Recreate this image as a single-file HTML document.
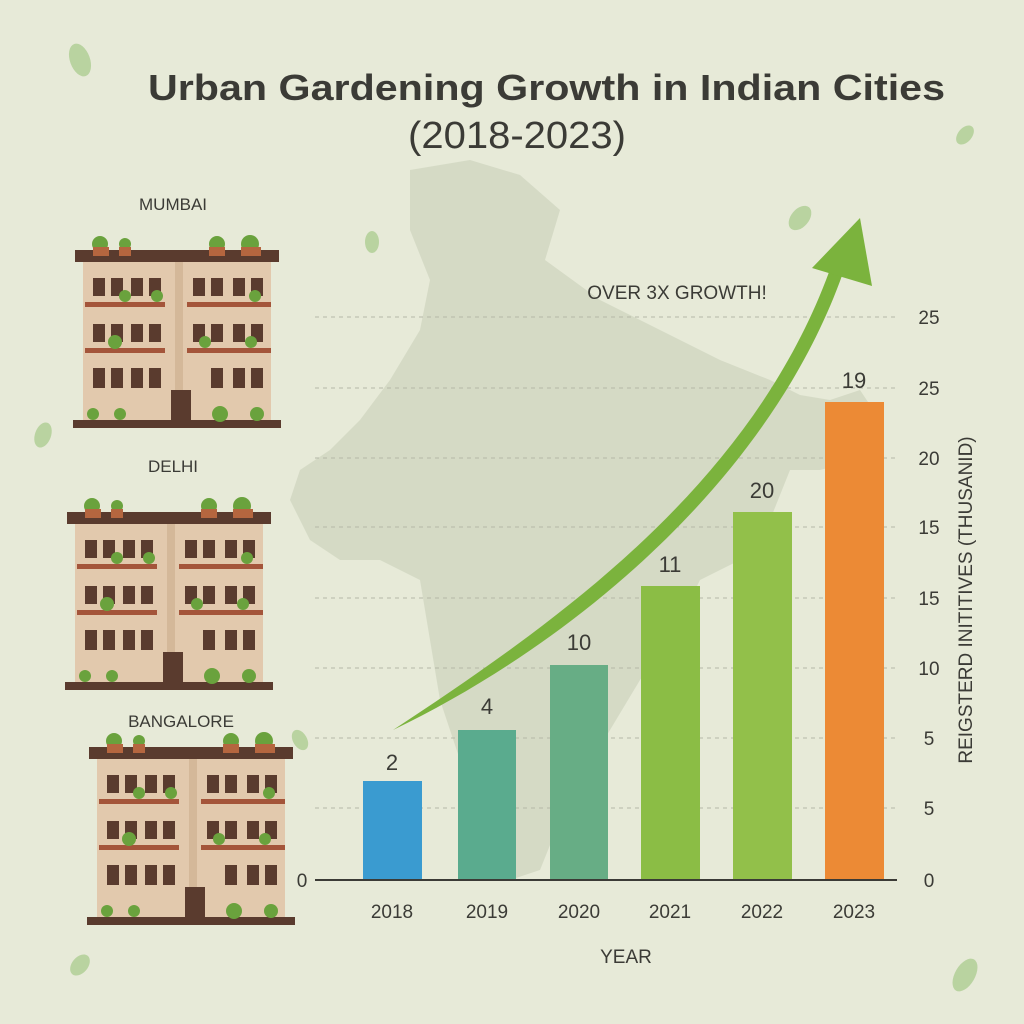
<!DOCTYPE html>
<html><head><meta charset="utf-8"><style>
html,body{margin:0;padding:0;background:#e7ead8;}
svg{display:block}
text{font-family:"Liberation Sans",sans-serif}
</style></head><body>
<svg width="1024" height="1024" viewBox="0 0 1024 1024" xmlns="http://www.w3.org/2000/svg">
<defs>
<g id="bld">
  <rect x="0" y="0" width="204" height="12" fill="#5a3b2e"/>
  <rect x="8" y="12" width="188" height="160" fill="#e2c9ad"/>
  <rect x="100" y="12" width="8" height="160" fill="#d4b899"/>
  <g fill="#5a3b2e">
    <rect x="18" y="28" width="12" height="18"/><rect x="36" y="28" width="12" height="18"/><rect x="56" y="28" width="12" height="18"/><rect x="74" y="28" width="12" height="18"/>
    <rect x="118" y="28" width="12" height="18"/><rect x="136" y="28" width="12" height="18"/><rect x="158" y="28" width="12" height="18"/><rect x="176" y="28" width="12" height="18"/>
    <rect x="18" y="74" width="12" height="18"/><rect x="36" y="74" width="12" height="18"/><rect x="56" y="74" width="12" height="18"/><rect x="74" y="74" width="12" height="18"/>
    <rect x="118" y="74" width="12" height="18"/><rect x="136" y="74" width="12" height="18"/><rect x="158" y="74" width="12" height="18"/><rect x="176" y="74" width="12" height="18"/>
    <rect x="18" y="118" width="12" height="20"/><rect x="36" y="118" width="12" height="20"/><rect x="56" y="118" width="12" height="20"/><rect x="74" y="118" width="12" height="20"/>
    <rect x="136" y="118" width="12" height="20"/><rect x="158" y="118" width="12" height="20"/><rect x="176" y="118" width="12" height="20"/>
    <rect x="96" y="140" width="20" height="32"/>
    <rect x="-2" y="170" width="208" height="8"/>
  </g>
  <g fill="#a4553a"><rect x="10" y="52" width="80" height="5"/><rect x="112" y="52" width="84" height="5"/><rect x="10" y="98" width="80" height="5"/><rect x="112" y="98" width="84" height="5"/></g>
  <g fill="#6aa23d">
    <circle cx="25" cy="-6" r="8"/><circle cx="50" cy="-6" r="6"/><circle cx="142" cy="-6" r="8"/><circle cx="175" cy="-6" r="9"/>
    <circle cx="50" cy="46" r="6"/><circle cx="82" cy="46" r="6"/><circle cx="180" cy="46" r="6"/>
    <circle cx="40" cy="92" r="7"/><circle cx="130" cy="92" r="6"/><circle cx="176" cy="92" r="6"/>
    <circle cx="18" cy="164" r="6"/><circle cx="45" cy="164" r="6"/><circle cx="145" cy="164" r="8"/><circle cx="182" cy="164" r="7"/>
  </g>
  <g fill="#b5663f"><rect x="18" y="-3" width="16" height="9"/><rect x="44" y="-3" width="12" height="9"/><rect x="134" y="-3" width="16" height="9"/><rect x="166" y="-3" width="20" height="9"/></g>
</g>
</defs>
<rect width="1024" height="1024" fill="#e7ead8"/>
<path d="M410 170 L470 160 L520 175 L560 210 L545 260 L600 300 L660 330 L720 360 L770 380 L800 395 L830 400 L860 390 L880 420 L860 460 L820 470 L790 470 L770 520 L740 560 L700 580 L680 620 L640 680 L610 730 L580 780 L560 820 L540 870 L510 880 L490 830 L460 760 L440 700 L430 640 L420 580 L380 560 L340 560 L310 540 L290 500 L300 470 L330 450 L360 420 L390 380 L420 330 L430 280 L410 230 Z" fill="#d3d8c3" opacity="0.9"/>
<text x="148" y="100" font-size="36" font-weight="bold" fill="#3b3b36" textLength="797" lengthAdjust="spacingAndGlyphs">Urban Gardening Growth in Indian Cities</text>
<text x="408" y="148" font-size="38" fill="#3b3b36" textLength="218" lengthAdjust="spacingAndGlyphs">(2018-2023)</text>
<text x="173" y="210" font-size="17" fill="#3b3b36" text-anchor="middle">MUMBAI</text>
<text x="173" y="472" font-size="17" fill="#3b3b36" text-anchor="middle">DELHI</text>
<text x="181" y="727" font-size="17" fill="#3b3b36" text-anchor="middle">BANGALORE</text>
<use href="#bld" x="75" y="250"/>
<use href="#bld" x="67" y="512"/>
<use href="#bld" x="89" y="747"/>
<g stroke="#b5b8a8" stroke-dasharray="4,4" stroke-width="1">
<line x1="315" y1="317" x2="895" y2="317"/><line x1="315" y1="388" x2="895" y2="388"/><line x1="315" y1="458" x2="895" y2="458"/><line x1="315" y1="527" x2="895" y2="527"/><line x1="315" y1="598" x2="895" y2="598"/><line x1="315" y1="668" x2="895" y2="668"/><line x1="315" y1="738" x2="895" y2="738"/><line x1="315" y1="808" x2="895" y2="808"/>
</g>
<rect x="363" y="781" width="59" height="99" fill="#3a9bd0"/>
<rect x="458" y="730" width="58" height="150" fill="#5aab8e"/>
<rect x="550" y="665" width="58" height="215" fill="#67ad85"/>
<rect x="641" y="586" width="59" height="294" fill="#8bbd45"/>
<rect x="733" y="512" width="59" height="368" fill="#92c04a"/>
<rect x="825" y="402" width="59" height="478" fill="#ec8a35"/>
<line x1="315" y1="880" x2="897" y2="880" stroke="#3b3b36" stroke-width="2"/>
<g font-size="22" fill="#3b3b36" text-anchor="middle">
<text x="392" y="770">2</text><text x="487" y="714">4</text><text x="579" y="650">10</text><text x="670" y="572">11</text><text x="762" y="498">20</text><text x="854" y="388">19</text>
</g>
<g font-size="19" fill="#3b3b36" text-anchor="middle">
<text x="392" y="918">2018</text><text x="487" y="918">2019</text><text x="579" y="918">2020</text><text x="670" y="918">2021</text><text x="762" y="918">2022</text><text x="854" y="918">2023</text>
<text x="626" y="963">YEAR</text>
<text x="302" y="887">0</text>
</g>
<g font-size="19" fill="#3b3b36" text-anchor="middle">
<text x="929" y="324">25</text><text x="929" y="395">25</text><text x="929" y="465">20</text><text x="929" y="534">15</text><text x="929" y="605">15</text><text x="929" y="675">10</text><text x="929" y="745">5</text><text x="929" y="815">5</text><text x="929" y="887">0</text>
</g>
<text transform="translate(972,600) rotate(-90)" font-size="19" fill="#3b3b36" text-anchor="middle">REIGSTERD INITITIVES (THUSANID)</text>
<path d="M393 730 C 560 620, 760 480, 835 255 L 848 258 C 780 470, 580 640, 393 730 Z" fill="#7bb33d"/>
<path d="M812 268 L860 218 L872 286 Z" fill="#7bb33d"/>
<text x="677" y="299" font-size="19" fill="#3b3b36" text-anchor="middle">OVER 3X GROWTH!</text>
<g fill="#b9d3a0">
<ellipse cx="80" cy="60" rx="10" ry="17" transform="rotate(-20 80 60)"/>
<ellipse cx="965" cy="135" rx="7" ry="11" transform="rotate(40 965 135)"/>
<ellipse cx="800" cy="218" rx="9" ry="14" transform="rotate(40 800 218)"/>
<ellipse cx="372" cy="242" rx="7" ry="11"/>
<ellipse cx="43" cy="435" rx="8" ry="13" transform="rotate(20 43 435)"/>
<ellipse cx="300" cy="740" rx="7" ry="11" transform="rotate(-30 300 740)"/>
<ellipse cx="80" cy="965" rx="8" ry="12" transform="rotate(40 80 965)"/>
<ellipse cx="965" cy="975" rx="10" ry="18" transform="rotate(30 965 975)"/>
</g>
</svg>
</body></html>
